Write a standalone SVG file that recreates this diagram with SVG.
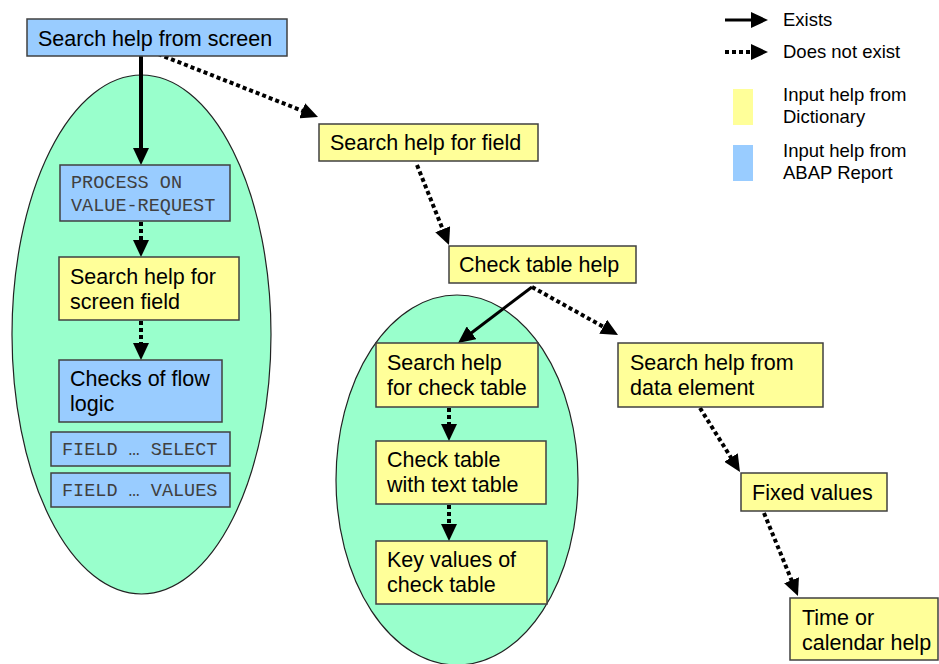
<svg xmlns="http://www.w3.org/2000/svg" width="939" height="664" viewBox="0 0 939 664">
<style>
.y{fill:#FFFF99;stroke:#404040;stroke-width:1.5}
.b{fill:#99CCFF;stroke:#404040;stroke-width:1.5}
.ell{fill:#99FFCC;stroke:#222;stroke-width:1.2}
.t{font-family:"Liberation Sans",Arial,sans-serif;font-size:21.5px;fill:#000}
.m{font-family:"Liberation Mono","Courier New",monospace;font-size:18.5px;fill:#404040}
.lg{font-family:"Liberation Sans",Arial,sans-serif;font-size:18.5px;fill:#000}
.s{stroke:#000;stroke-width:4;fill:none}
.s3{stroke:#000;stroke-width:3;fill:none}
.d{stroke:#000;stroke-width:4;fill:none;stroke-dasharray:4 3}
</style>
<defs>
<marker id="ah" markerUnits="userSpaceOnUse" markerWidth="17" markerHeight="16" refX="7" refY="8" orient="auto" viewBox="0 0 17 16">
<path d="M0,0 L17,8 L0,16 z" fill="#000"/>
</marker>
</defs>
<rect width="939" height="664" fill="#fff"/>
<g id="ellipse-left"><ellipse class="ell" cx="141.5" cy="334.5" rx="129.5" ry="259.5"/></g>
<g id="ellipse-mid"><ellipse class="ell" cx="457" cy="480" rx="121" ry="185"/></g>

<g id="connectors">
<line class="s" x1="141" y1="56" x2="141" y2="155" marker-end="url(#ah)"/>
<line class="d" x1="158" y1="54" x2="308.7" y2="113.3" marker-end="url(#ah)"/>
<line class="d" x1="141" y1="222" x2="141" y2="247" marker-end="url(#ah)"/>
<line class="d" x1="141" y1="321" x2="141" y2="350" marker-end="url(#ah)"/>
<line class="d" x1="417" y1="165" x2="445.3" y2="235.7" marker-end="url(#ah)"/>
<line class="s3" x1="532" y1="287" x2="466" y2="337" marker-end="url(#ah)"/>
<line class="d" x1="532" y1="287" x2="609.3" y2="330.1" marker-end="url(#ah)"/>
<line class="d" x1="449" y1="408" x2="449" y2="431" marker-end="url(#ah)"/>
<line class="d" x1="449" y1="505" x2="449" y2="531" marker-end="url(#ah)"/>
<line class="d" x1="700" y1="408" x2="734.7" y2="463.5" marker-end="url(#ah)"/>
<line class="d" x1="764" y1="513" x2="794.2" y2="586.7" marker-end="url(#ah)"/>
</g>

<g id="n-screen"><rect class="b" x="27" y="19" width="260" height="37"/><text class="t" x="38" y="46">Search help from screen</text></g>
<g id="n-pov"><rect class="b" x="60" y="165" width="170" height="56"/><text class="m" x="71" y="188">PROCESS ON</text><text class="m" x="71" y="211">VALUE-REQUEST</text></g>
<g id="n-screenfield"><rect class="y" x="59" y="257" width="180" height="63"/><text class="t" x="70" y="284">Search help for</text><text class="t" x="70" y="309">screen field</text></g>
<g id="n-flow"><rect class="b" x="59" y="360" width="163" height="62"/><text class="t" x="70" y="386">Checks of flow</text><text class="t" x="70" y="411">logic</text></g>
<g id="n-select"><rect class="b" x="51" y="432" width="179" height="34"/><text class="m" x="62" y="455">FIELD … SELECT</text></g>
<g id="n-values"><rect class="b" x="51" y="473" width="179" height="34"/><text class="m" x="62" y="496">FIELD … VALUES</text></g>
<g id="n-field"><rect class="y" x="319" y="124" width="219" height="37"/><text class="t" x="330" y="150">Search help for field</text></g>
<g id="n-checktable"><rect class="y" x="449" y="246" width="187" height="37"/><text class="t" x="459" y="272">Check table help</text></g>
<g id="n-shct"><rect class="y" x="376" y="343" width="162" height="64"/><text class="t" x="387" y="370">Search help</text><text class="t" x="387" y="395">for check table</text></g>
<g id="n-ctt"><rect class="y" x="376" y="441" width="170" height="63"/><text class="t" x="387" y="467">Check table</text><text class="t" x="387" y="492">with text table</text></g>
<g id="n-key"><rect class="y" x="376" y="541" width="171" height="63"/><text class="t" x="387" y="567">Key values of</text><text class="t" x="387" y="592">check table</text></g>
<g id="n-dataelem"><rect class="y" x="618" y="343" width="205" height="64"/><text class="t" x="630" y="370">Search help from</text><text class="t" x="630" y="395">data element</text></g>
<g id="n-fixed"><rect class="y" x="741" y="473" width="146" height="38"/><text class="t" x="752" y="500">Fixed values</text></g>
<g id="n-time"><rect class="y" x="790" y="598" width="148" height="62"/><text class="t" x="802" y="625">Time or</text><text class="t" x="802" y="650">calendar help</text></g>

<g id="legend">
<line class="s3" x1="725" y1="20" x2="758" y2="20" marker-end="url(#ah)"/>
<text class="lg" x="783" y="26">Exists</text>
<line class="d" x1="725" y1="52" x2="758" y2="52" marker-end="url(#ah)"/>
<text class="lg" x="783" y="58">Does not exist</text>
<rect x="733" y="89" width="20" height="36" fill="#FFFF99"/>
<text class="lg" x="783" y="101">Input help from</text>
<text class="lg" x="783" y="123">Dictionary</text>
<rect x="733" y="145" width="20" height="36" fill="#99CCFF"/>
<text class="lg" x="783" y="157">Input help from</text>
<text class="lg" x="783" y="179">ABAP Report</text>
</g>
</svg>
